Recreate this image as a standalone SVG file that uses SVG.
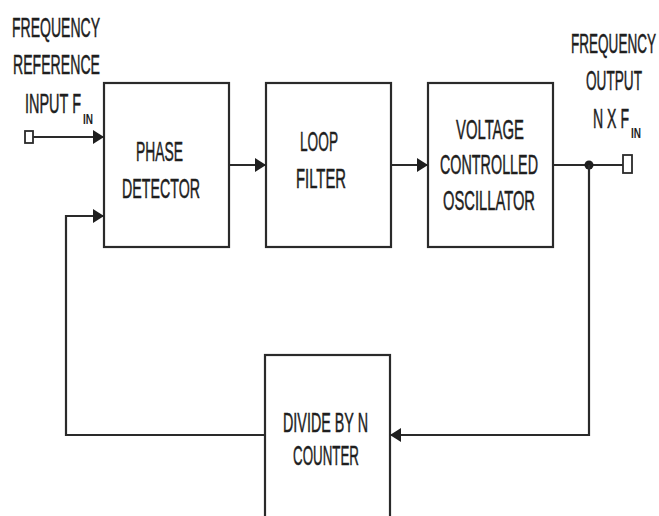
<svg xmlns="http://www.w3.org/2000/svg" width="659" height="516" viewBox="0 0 659 516">
<defs>
<style>
.box{fill:#fff;stroke:#2a2a2a;stroke-width:2.2}
.ln{fill:none;stroke:#2a2a2a;stroke-width:2.2}
.t{font-family:"Liberation Sans",Arial,sans-serif;font-size:28px;fill:#1e1e1e;stroke:#1e1e1e;stroke-width:0.5}
.s{font-family:"Liberation Sans",Arial,sans-serif;font-size:15px;fill:#1e1e1e;font-weight:bold}
.ah{fill:#1e1e1e}
</style>
<marker id="arr" markerWidth="12" markerHeight="14" refX="11" refY="7" orient="auto" markerUnits="userSpaceOnUse">
<path d="M0,0 L11,7 L0,14 Z" class="ah"/>
</marker>
</defs>
<rect width="659" height="516" fill="#fff"/>

<g id="labels-in">
<text class="t" x="12" y="37" textLength="88" lengthAdjust="spacingAndGlyphs">FREQUENCY</text>
<text class="t" x="13" y="74" textLength="87" lengthAdjust="spacingAndGlyphs">REFERENCE</text>
<text class="t" x="25" y="113" textLength="56" lengthAdjust="spacingAndGlyphs">INPUT F</text>
<text class="s" x="83" y="124" textLength="10" lengthAdjust="spacingAndGlyphs">IN</text>
<rect x="25" y="131" width="8" height="12" fill="#fff" stroke="#2a2a2a" stroke-width="1.8"/>
</g>

<g id="labels-out">
<text class="t" x="571" y="53" textLength="85" lengthAdjust="spacingAndGlyphs">FREQUENCY</text>
<text class="t" x="586" y="90" textLength="56" lengthAdjust="spacingAndGlyphs">OUTPUT</text>
<text class="t" x="593" y="128" textLength="36" lengthAdjust="spacingAndGlyphs">N X F</text>
<text class="s" x="631" y="138" textLength="10" lengthAdjust="spacingAndGlyphs">IN</text>
<rect x="623" y="155" width="9" height="18" fill="#fff" stroke="#2a2a2a" stroke-width="1.8"/>
</g>

<g id="phase-detector">
<rect class="box" x="104" y="83" width="125" height="164"/>
<text class="t" x="136" y="161" textLength="47" lengthAdjust="spacingAndGlyphs">PHASE</text>
<text class="t" x="122" y="198" textLength="78" lengthAdjust="spacingAndGlyphs">DETECTOR</text>
</g>

<g id="loop-filter">
<rect class="box" x="266" y="83" width="125" height="164"/>
<text class="t" x="300" y="151" textLength="38" lengthAdjust="spacingAndGlyphs">LOOP</text>
<text class="t" x="296" y="188" textLength="50" lengthAdjust="spacingAndGlyphs">FILTER</text>
</g>

<g id="vco">
<rect class="box" x="428" y="83" width="125" height="164"/>
<text class="t" x="456" y="139" textLength="68" lengthAdjust="spacingAndGlyphs">VOLTAGE</text>
<text class="t" x="440" y="174" textLength="98" lengthAdjust="spacingAndGlyphs">CONTROLLED</text>
<text class="t" x="443" y="210" textLength="92" lengthAdjust="spacingAndGlyphs">OSCILLATOR</text>
</g>

<g id="divider">
<rect class="box" x="265" y="355" width="125" height="180"/>
<text class="t" x="283" y="432" textLength="85" lengthAdjust="spacingAndGlyphs">DIVIDE BY N</text>
<text class="t" x="293" y="465" textLength="66" lengthAdjust="spacingAndGlyphs">COUNTER</text>
</g>

<g id="connectors">
<line class="ln" x1="33" y1="137" x2="104" y2="137" marker-end="url(#arr)"/>
<line class="ln" x1="229" y1="165" x2="266" y2="165" marker-end="url(#arr)"/>
<line class="ln" x1="391" y1="165" x2="428" y2="165" marker-end="url(#arr)"/>
<line class="ln" x1="553" y1="165" x2="623" y2="165"/>
<circle cx="589" cy="165" r="4.5" fill="#1e1e1e"/>
<polyline class="ln" points="589,165 589,435 390,435" marker-end="url(#arr)"/>
<polyline class="ln" points="265,435 66,435 66,216 104,216" marker-end="url(#arr)"/>
</g>
</svg>
